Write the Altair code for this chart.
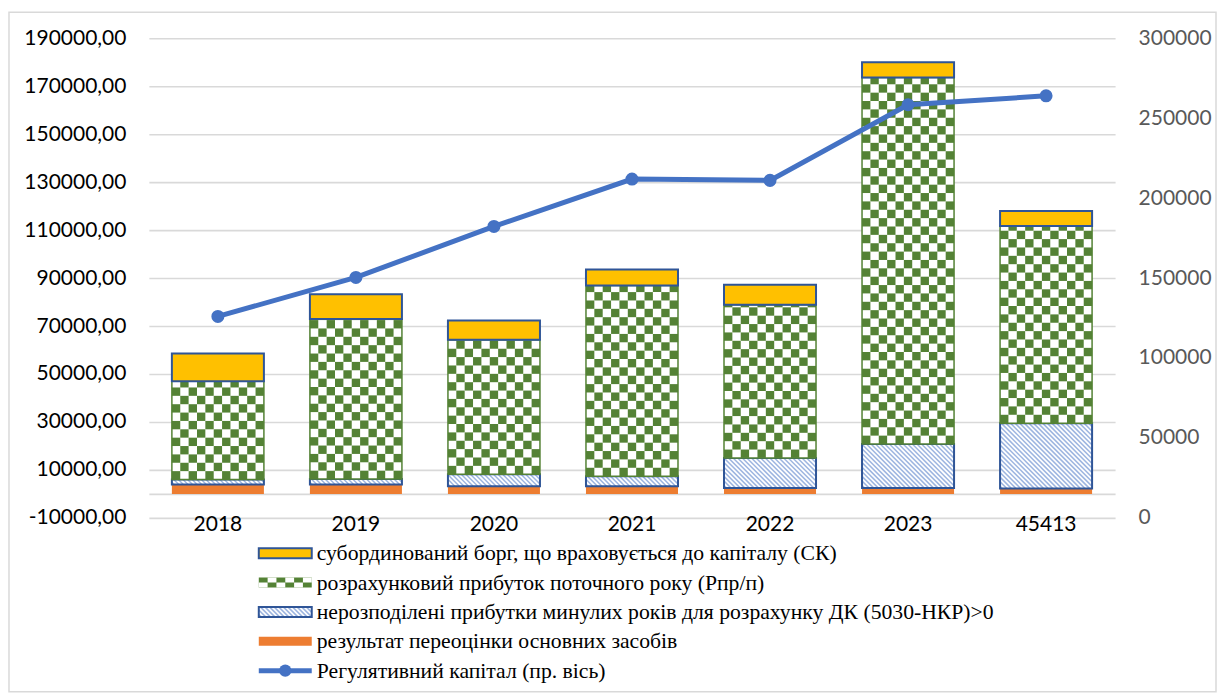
import math

import altair as alt
import pandas as pd

# ---- data -----------------------------------------------------------------
categories = ["2018", "2019", "2020", "2021", "2022", "2023", "45413"]

# stacked components (left axis), bottom to top
revaluation = [3900, 3900, 3200, 3200, 2500, 2500, 2200]
retained_earnings = [2100, 2300, 5000, 4200, 12500, 18300, 27300]
current_profit = [41000, 66700, 56100, 79500, 63900, 152800, 82200]
subordinated_debt = [11500, 10300, 8000, 6700, 8300, 6400, 6300]

# regulatory capital (right axis)
regulatory_capital = [126000, 150400, 182300, 211900, 211100, 258400, 264000]

series_labels = [
    "субординований борг, що враховується до капіталу (СК)",
    "розрахунковий прибуток поточного року (Рпр/п)",
    "нерозподілені прибутки минулих років для розрахунку ДК (5030-НКР)>0",
    "результат переоцінки основних засобів",
    "Регулятивний капітал (пр. вісь)",
]

left_ticks = [-10000, 0, 10000, 30000, 50000, 70000, 90000, 110000,
              130000, 150000, 170000, 190000]
right_ticks = [0, 50000, 100000, 150000, 200000, 250000, 300000]

# ---- geometry helpers -------------------------------------------------------
W, H = 967, 480
Y_MIN, Y_MAX = -10000, 190000
Y2_MAX = 300000
N = len(categories)
BAR_W = 2 / 3                      # gap width 50 %
PX_X = W / N                       # pixels per category unit
PX_Y = H / (Y_MAX - Y_MIN)         # pixels per value unit
CHECK_COLS = 11
STRIPE_STEP = 4.6                  # px between hatch stripes (horizontal)

YELLOW = "#FFC000"
GREEN = "#548235"
HATCH = "#9DB5E0"
ORANGE = "#ED7D31"
OUTLINE = "#2F5597"
LINE = "#4472C4"
GRID = "#D9D9D9"

stack = [("rev", revaluation), ("ret", retained_earnings),
         ("cur", current_profit), ("sub", subordinated_debt)]

rows = []
for i, cat in enumerate(categories):
    base = 0
    for key, vals in stack:
        rows.append(dict(series=key, cat=cat, x0=i - BAR_W / 2, x1=i + BAR_W / 2,
                         y0=base, y1=base + vals[i]))
        base += vals[i]
seg = pd.DataFrame(rows)


def checker_cells(frame, y_px, cols, cell_px):
    out = []
    for r in frame.itertuples():
        cw = (r.x1 - r.x0) / cols
        ch = cell_px / y_px
        nrows = math.ceil((r.y1 - r.y0) / ch - 1e-9)
        for row in range(nrows):
            for col in range(cols):
                if (row + col) % 2 == 0:
                    out.append(dict(x0=r.x0 + col * cw, x1=r.x0 + (col + 1) * cw,
                                    y0=r.y0 + row * ch,
                                    y1=min(r.y0 + (row + 1) * ch, r.y1)))
    return pd.DataFrame(out)


def hatch_stripes(frame, x_px, y_px, step):
    out = []
    for r in frame.itertuples():
        bw = (r.x1 - r.x0) * x_px
        h = (r.y1 - r.y0) * y_px
        c = step / 2
        while c < bw + h:
            xa = max(0.0, c - h)
            xb = min(bw, c)
            out.append(dict(x0=r.x0 + xa / x_px, y0=r.y0 + (c - xa) / y_px,
                            x1=r.x0 + xb / x_px, y1=r.y0 + (c - xb) / y_px))
            c += step
    return pd.DataFrame(out)


cur = seg[seg.series == "cur"]
ret = seg[seg.series == "ret"]
cells = checker_cells(cur, PX_Y, CHECK_COLS, BAR_W * PX_X / CHECK_COLS)
stripes = hatch_stripes(ret, PX_X, PX_Y, STRIPE_STEP)
line_df = pd.DataFrame({"i": list(range(N)), "value": regulatory_capital})
cat_df = pd.DataFrame({"i": list(range(N)), "cat": categories})

# ---- main panel -------------------------------------------------------------
x_scale = alt.Scale(domain=[-0.5, N - 0.5], nice=False, zero=False)
y_scale = alt.Scale(domain=[Y_MIN, Y_MAX], nice=False, zero=False)

y_axis = alt.Axis(values=left_ticks,
                  labelExpr="datum.value == 0 ? '' : datum.value + ',00'",
                  grid=True, gridColor=GRID, gridWidth=1.6,
                  domain=False, ticks=False, title=None, labelPadding=23,
                  labelFont="Lato", labelFontSize=21, labelColor="#000000")


def rect_enc(axes=False):
    return dict(
        x=alt.X("x0:Q", scale=x_scale, axis=None),
        x2="x1:Q",
        y=alt.Y("y0:Q", scale=y_scale, axis=y_axis if axes else None),
        y2="y1:Q",
    )


orange = alt.Chart(seg[seg.series == "rev"]).mark_rect(color=ORANGE).encode(**rect_enc(True))
hatch_bg = alt.Chart(ret).mark_rect(color="white").encode(**rect_enc())
hatch_lines = alt.Chart(stripes).mark_rule(color=HATCH, strokeWidth=1.5).encode(**rect_enc())
hatch_edge = alt.Chart(ret).mark_rect(filled=False, stroke=OUTLINE, strokeWidth=2).encode(**rect_enc())
check_bg = alt.Chart(cur).mark_rect(color="white").encode(**rect_enc())
check_cells = alt.Chart(cells).mark_rect(color=GREEN).encode(**rect_enc())
check_edge = alt.Chart(cur).mark_rect(filled=False, stroke=GREEN, strokeWidth=1.5).encode(**rect_enc())
yellow = alt.Chart(seg[seg.series == "sub"]).mark_rect(
    fill=YELLOW, stroke=OUTLINE, strokeWidth=2).encode(**rect_enc())

# category labels under the zero line
cat_labels = alt.Chart(cat_df).mark_text(
    font="Lato", fontSize=21, color="#000000", baseline="middle", align="center"
).encode(x=alt.X("i:Q", scale=x_scale, axis=None), y=alt.value(487), text="cat:N")

capital_line = alt.Chart(line_df).mark_line(
    color=LINE, strokeWidth=5,
    point=alt.OverlayMarkDef(filled=True, size=170, color=LINE, opacity=1),
).encode(
    x=alt.X("i:Q", scale=x_scale, axis=None),
    y=alt.Y("value:Q", scale=alt.Scale(domain=[0, Y2_MAX], nice=False),
            axis=alt.Axis(orient="right", values=right_ticks, format="d",
                          grid=False, ticks=False, domain=False, title=None,
                          labelPadding=23, labelFont="Lato", labelFontSize=21,
                          labelColor="#595959")),
)

# outer chart border
frame = alt.Chart(pd.DataFrame({"k": [0]})).mark_rect(
    filled=False, stroke=GRID, strokeWidth=1.5
).encode(x=alt.value(-140), x2=alt.value(1068), y=alt.value(-26), y2=alt.value(654))

main = alt.layer(
    orange, hatch_bg, hatch_lines, hatch_edge, check_bg, check_cells, check_edge,
    yellow, capital_line, cat_labels, frame,
).resolve_scale(y="independent").properties(width=W, height=H)

# ---- legend panel -------------------------------------------------------------
LW, LH = W, 150
ROW0, STEP = 20.3, 29.4
SW_X0, SW_X1, TXT_X = 110, 163, 168
lx = alt.Scale(domain=[0, LW], nice=False, zero=False)
ly = alt.Scale(domain=[0, LH], nice=False, zero=False, reverse=True)


def row_y(j):
    return ROW0 + j * STEP


def swatch(j, half=5):
    return pd.DataFrame([dict(x0=SW_X0, x1=SW_X1, y0=row_y(j) - half, y1=row_y(j) + half)])


def lenc():
    return dict(x=alt.X("x0:Q", scale=lx, axis=None), x2="x1:Q",
                y=alt.Y("y0:Q", scale=ly, axis=None), y2="y1:Q")


sw_green = swatch(1)
sw_hatch = swatch(2)
leg_cells = []
for row in range(2):
    for col in range(6):
        if (row + col) % 2 == 1:
            cw = (SW_X1 - SW_X0) / 6
            leg_cells.append(dict(x0=SW_X0 + col * cw, x1=SW_X0 + (col + 1) * cw,
                                  y0=row_y(1) - 5 + row * 5, y1=row_y(1) + row * 5))
leg_cells = pd.DataFrame(leg_cells)
leg_stripes = hatch_stripes(sw_hatch.assign(y0=sw_hatch.y1, y1=sw_hatch.y0), 1, -1, STRIPE_STEP)

leg_text = pd.DataFrame({"label": series_labels,
                         "x": [TXT_X] * 5,
                         "y": [row_y(j) for j in range(5)]})
leg_line = pd.DataFrame({"x": [SW_X0, SW_X1], "y": [row_y(4)] * 2})
leg_dot = pd.DataFrame({"x": [(SW_X0 + SW_X1) / 2], "y": [row_y(4)]})

legend = alt.layer(
    alt.Chart(swatch(0)).mark_rect(fill=YELLOW, stroke=OUTLINE, strokeWidth=2).encode(**lenc()),
    alt.Chart(sw_green).mark_rect(color=GREEN).encode(**lenc()),
    alt.Chart(leg_cells).mark_rect(color="white").encode(**lenc()),
    alt.Chart(sw_hatch).mark_rect(color="white").encode(**lenc()),
    alt.Chart(leg_stripes).mark_rule(color=HATCH, strokeWidth=1.5).encode(**lenc()),
    alt.Chart(sw_hatch).mark_rect(filled=False, stroke=OUTLINE, strokeWidth=2).encode(**lenc()),
    alt.Chart(swatch(3, 4.5)).mark_rect(color=ORANGE).encode(**lenc()),
    alt.Chart(leg_line).mark_line(color=LINE, strokeWidth=5).encode(
        x=alt.X("x:Q", scale=lx, axis=None), y=alt.Y("y:Q", scale=ly, axis=None)),
    alt.Chart(leg_dot).mark_point(filled=True, size=150, color=LINE, opacity=1).encode(
        x=alt.X("x:Q", scale=lx, axis=None), y=alt.Y("y:Q", scale=ly, axis=None)),
    alt.Chart(leg_text).mark_text(align="left", baseline="middle", font="Liberation Serif",
                                  fontSize=21.7, color="#000000").encode(
        x=alt.X("x:Q", scale=lx, axis=None), y=alt.Y("y:Q", scale=ly, axis=None),
        text="label:N"),
).properties(width=LW, height=LH)

chart = alt.vconcat(main, legend, spacing=15, bounds="flush").properties(
    padding={"left": 7, "top": 10, "right": 5, "bottom": 5}
).configure_view(stroke="transparent")

chart.save("out.html", embed_options={"renderer": "svg", "actions": False})
